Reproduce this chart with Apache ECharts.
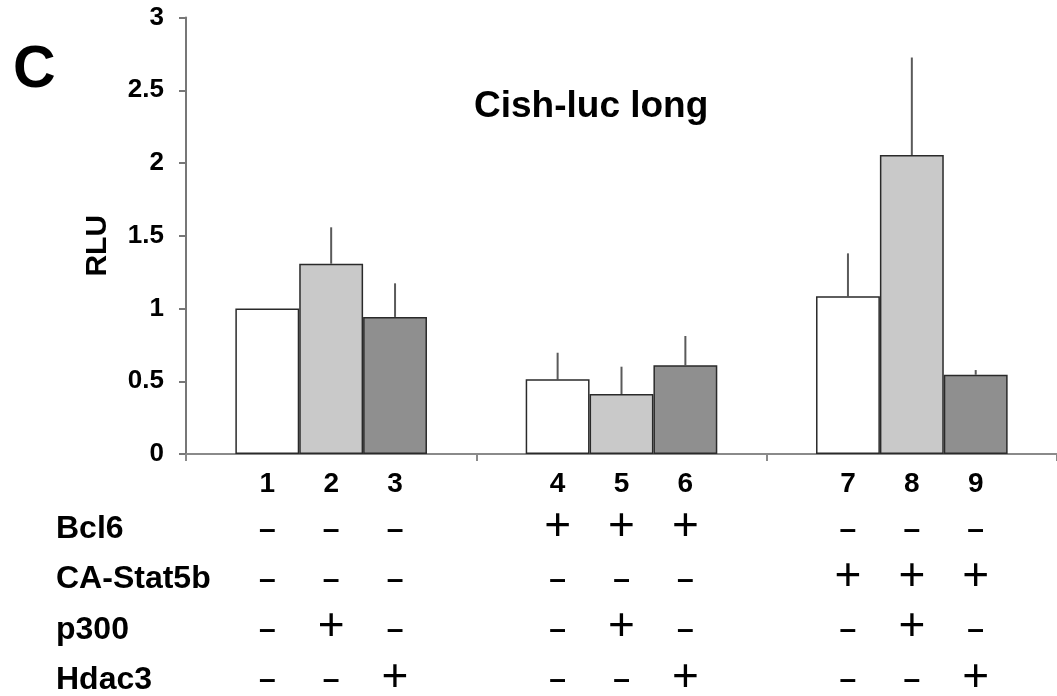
<!DOCTYPE html>
<html><head><meta charset="utf-8">
<script src="https://cdn.jsdelivr.net/npm/echarts@6/dist/echarts.min.js"></script>
<style>html,body{margin:0;padding:0;background:#fff}#c{width:1057px;height:696px}</style>
</head><body><div id="c"></div>
<script>
// ---- data ----
const groups = ['G1', 'G2', 'G3'];
const laneNumbers = ['1', '2', '3', '4', '5', '6', '7', '8', '9'];
const whiteBars = [1.00, 0.513, 1.084];   // lanes 1, 4, 7
const lightBars = [1.308, 0.412, 2.055];  // lanes 2, 5, 8
const darkBars  = [0.942, 0.610, 0.545];  // lanes 3, 6, 9
const whiteErr = [0.00, 0.183, 0.295];
const lightErr = [0.250, 0.188, 0.670];
const darkErr  = [0.231, 0.201, 0.032];
const rowNames = ['', 'Bcl6', 'CA-Stat5b', 'p300', 'Hdac3'];
const bcl6     = ['-', '-', '-', '+', '+', '+', '-', '-', '-'];
const caStat5b = ['-', '-', '-', '-', '-', '-', '+', '+', '+'];
const p300     = ['-', '+', '-', '-', '+', '-', '-', '+', '-'];
const hdac3    = ['-', '-', '+', '-', '-', '+', '-', '-', '+'];
const titleText = 'Cish-luc long';
const panelLetter = 'C';
const yName = 'RLU';

// ---- layout / style constants ----
const FONT = '"Liberation Sans", Arial, Helvetica, sans-serif';
const BAR_FRAC = 0.22;
const GRID_LEFT = 186, GRID_TOP = 17.5, GRID_W = 874.5, GRID_H = 436.5;

const barSets = [whiteBars, lightBars, darkBars];
const errSets = [whiteErr, lightErr, darkErr];
const barColors = ['#ffffff', '#c9c9c9', '#8f8f8f'];

const errData = [];
for (let k = 0; k < 3; k++) {
  for (let g = 0; g < groups.length; g++) {
    errData.push([g, barSets[k][g], errSets[k][g], k]);
  }
}

const signRows = [bcl6, caStat5b, p300, hdac3];
const tableCells = [];
for (let lane = 0; lane < laneNumbers.length; lane++) {
  const g = Math.floor(lane / 3), k = lane % 3;
  tableCells.push({ g, row: 0, k, text: laneNumbers[lane], kind: 'num' });
  signRows.forEach((r, ri) => {
    tableCells.push({ g, row: ri + 1, k, text: r[lane] === '+' ? '+' : '\u2013', kind: r[lane] });
  });
}

const chart = echarts.init(document.getElementById('c'), null, { renderer: 'canvas' });

const series = barSets.map((vals, k) => ({
  type: 'bar',
  xAxisIndex: 0, yAxisIndex: 0,
  data: vals,
  barWidth: (BAR_FRAC * 100) + '%',
  barGap: '0%',
  itemStyle: { color: barColors[k], borderColor: '#2a2a2a', borderWidth: 1.5 },
  z: 2
}));

series.push({
  type: 'custom',
  xAxisIndex: 0, yAxisIndex: 0,
  data: errData,
  encode: { x: 0, y: 1 },
  z: 1,
  renderItem(params, api) {
    const g = api.value(0), v = api.value(1), e = api.value(2), k = api.value(3);
    if (!(e > 0)) return null;
    const bw = api.size([1, 0])[0];
    const b = api.coord([g, v]);
    const t = api.coord([g, v + e]);
    const x = b[0] + (k - 1) * bw * BAR_FRAC;
    return { type: 'line', shape: { x1: x, y1: b[1], x2: x, y2: t[1] },
      style: { stroke: '#5a5a5a', lineWidth: 2 } };
  }
});

series.push({
  type: 'custom',
  xAxisIndex: 1, yAxisIndex: 1,
  data: tableCells.map(c => [c.g, c.row, c.k]),
  encode: { x: 0, y: 1 },
  silent: true,
  renderItem(params, api) {
    const cell = tableCells[params.dataIndex];
    const bw = api.size([1, 0])[0];
    const p = api.coord([cell.g, cell.row]);
    const x = p[0] + (cell.k - 1) * bw * BAR_FRAC;
    let font, dy = 0;
    if (cell.kind === 'num') { font = 'bold 28px ' + FONT; dy = 5; }
    else if (cell.kind === '+') { font = 'normal 46px ' + FONT; dy = -2; }
    else { font = 'bold 30px ' + FONT; dy = 1; }
    return { type: 'text', x: x, y: p[1] + dy,
      style: { text: cell.text, font: font, fill: '#000', align: 'center', verticalAlign: 'middle' } };
  }
});

chart.setOption({
  animation: false,
  backgroundColor: '#ffffff',
  title: [
    { text: panelLetter, left: 8, top: 36, textStyle: { fontFamily: FONT, fontWeight: 'bold', fontSize: 59, color: '#000' } },
    { text: titleText, left: 469, top: 83, textStyle: { fontFamily: FONT, fontWeight: 'bold', fontSize: 37, color: '#000' } }
  ],
  grid: [
    { left: GRID_LEFT, top: GRID_TOP, width: GRID_W, height: GRID_H, containLabel: false },
    { left: GRID_LEFT, top: 479, width: GRID_W, height: 208, containLabel: false }
  ],
  xAxis: [
    { type: 'category', gridIndex: 0, data: groups,
      axisLine: { show: true, lineStyle: { color: '#8a8a8a', width: 2 } },
      axisTick: { show: true, alignWithLabel: false, length: 7, lineStyle: { color: '#8a8a8a', width: 2 } },
      axisLabel: { show: false }, splitLine: { show: false } },
    { type: 'category', gridIndex: 1, data: groups, show: false }
  ],
  yAxis: [
    { type: 'value', gridIndex: 0, min: 0, max: 3, interval: 0.5,
      name: yName, nameLocation: 'middle', nameGap: 73, nameRotate: 90,
      nameTextStyle: { fontFamily: FONT, fontWeight: 'bold', fontSize: 30, color: '#000', padding: [0, 20, 0, 0] },
      axisLine: { show: true, lineStyle: { color: '#777', width: 2 } },
      axisTick: { show: true, inside: false, length: 7, lineStyle: { color: '#777', width: 2 } },
      axisLabel: { fontFamily: FONT, fontWeight: 'bold', fontSize: 26, color: '#000', margin: 22 },
      splitLine: { show: false } },
    { type: 'category', gridIndex: 1, data: rowNames, inverse: true, boundaryGap: false,
      axisLine: { show: false }, axisTick: { show: false }, splitLine: { show: false },
      axisLabel: { interval: 0, align: 'left', margin: 130, fontFamily: FONT, fontWeight: 'bold', fontSize: 32, color: '#000', padding: [0, 0, 12, 0] } }
  ],
  series: series
});
</script>
</body></html>
